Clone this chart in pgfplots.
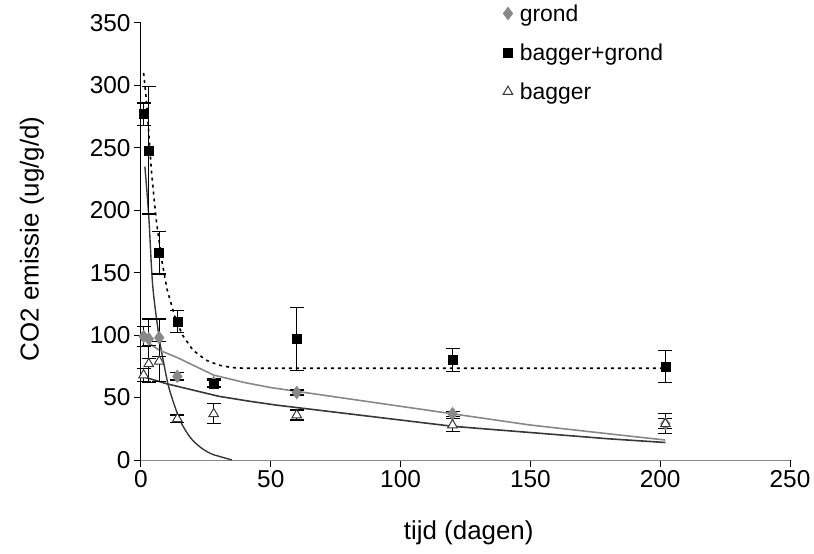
\documentclass[border=0pt]{standalone}
\usepackage{fontspec}
\setmainfont{Liberation Sans}
\usepackage{pgfplots}
\usepackage{pgfplotstable}
\pgfplotsset{compat=1.18}
\definecolor{grondgray}{HTML}{888888}
\definecolor{darkline}{HTML}{383838}
\pgfplotstableread{
x y e
1 99 8
3 97 16
7 98 15
14 67 3
28 62 3
60 54 2
120 37 2
202 29 4
}\grond
\pgfplotstableread{
x y e
1 277 9
3 248 51
7 166 17
14 111 9
28 61 3
60 97 25
120 80 9
202 75 13
}\baggergrond
\pgfplotstableread{
x y e
1 68 5
3 77 15
7 79 16
14 33 3
28 37 8
60 36 4
120 28 5
202 29 8
}\bagger
\begin{document}
\begin{tikzpicture}
\begin{axis}[
  scale only axis, width=649bp, height=437bp,
  xmin=0, xmax=250, ymin=0, ymax=350,
  xtick={0,50,...,250}, ytick={0,50,...,350},
  axis lines*=left,
  x axis line style={draw=grondgray, line width=1bp},
  y axis line style={draw=black, line width=1bp},
  tick align=outside, major tick length=7bp,
  tick style={black, line width=1bp},
  tick label style={font=\fontsize{24.5}{28}\selectfont},
  label style={font=\fontsize{26}{31}\selectfont},
  /pgf/number format/assume math mode=true,
  xlabel={tijd (dagen)}, ylabel={CO2 emissie (ug/g/d)},
  xlabel style={at={(axis description cs:0.505,0)}, anchor=center, yshift=-73bp},
  ylabel style={at={(axis description cs:-0.168,0.506)}, anchor=center},
  legend style={draw=none, fill=none, at={(0.553,1.052)}, anchor=north west,
    row sep=17bp, font=\fontsize{23}{27}\selectfont,
    /tikz/every odd column/.append style={column sep=5bp}},
  legend cell align=left,
  clip=false,
]
% fitted curves
\addplot[forget plot, black, line width=1.6bp, dash pattern=on 3bp off 4bp] coordinates {
(1,310) (2,290) (3,262) (4,232) (5,210) (6,190) (8,160) (10,137) (13,115) (16,100) (20,88) (25,80) (30,76) (35,74) (40,73.5) (202,73.5)};
\addplot[forget plot, darkline, line width=1.4bp, smooth] coordinates {
(1.5,235) (3,195) (4.5,140) (7,98) (9,75) (11,56) (15,32) (19,18) (23,10) (27,5) (30,3) (35,0)};
\addplot[forget plot, grondgray, line width=1.6bp] coordinates {
(2,95) (7,88) (14,82) (20,76) (28,68) (40,62) (50,58) (60,55) (80,49) (100,43) (120,37) (150,28) (180,21) (202,16)};
\addplot[forget plot, darkline, line width=1.6bp] coordinates {
(2,66) (10,61) (20,56) (30,51) (42,47) (52,44) (60,42) (80,37) (100,32) (120,27) (150,22) (180,17) (202,14)};
% data
\addplot[only marks, mark=diamond*, mark size=6.5bp, color=grondgray,
  error bars/.cd, y dir=both, y explicit,
  error bar style={black, line width=1.2bp},
  error mark options={rotate=90, mark size=7bp, black, line width=1.2bp}]
  table[x=x, y=y, y error=e] {\grond};
\addlegendentry{grond}
\addplot[only marks, mark=square*, mark size=4.5bp, color=black,
  error bars/.cd, y dir=both, y explicit,
  error bar style={black, line width=1.2bp},
  error mark options={rotate=90, mark size=7bp, black, line width=1.2bp}]
  table[x=x, y=y, y error=e] {\baggergrond};
\addlegendentry{bagger+grond}
\addplot[only marks, mark=triangle*, mark size=5.5bp, draw=darkline, fill=white, line width=1bp,
  error bars/.cd, y dir=both, y explicit,
  error bar style={black, line width=1.2bp},
  error mark options={rotate=90, mark size=7bp, black, line width=1.2bp}]
  table[x=x, y=y, y error=e] {\bagger};
\addlegendentry{bagger}
\end{axis}
\pgfresetboundingbox
\path[use as bounding box] ([shift={(-141bp,-94bp)}]current axis.south west) rectangle ([shift={(24bp,23bp)}]current axis.north east);
\end{tikzpicture}
\end{document}
